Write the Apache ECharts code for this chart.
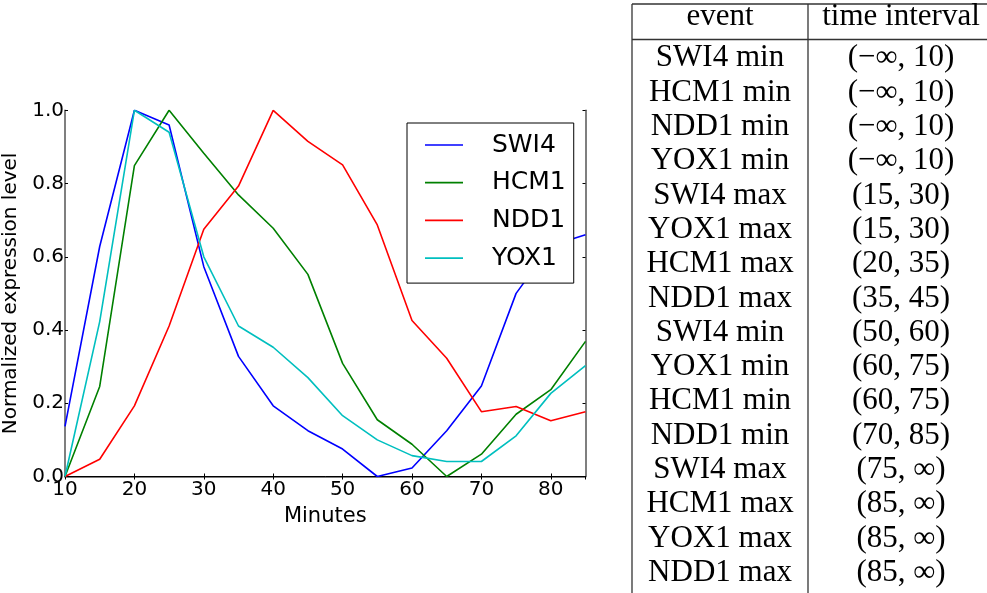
<!DOCTYPE html>
<html><head><meta charset="utf-8">
<script src="https://cdn.jsdelivr.net/npm/echarts@6/dist/echarts.min.js"></script>
<style>html,body{margin:0;padding:0;background:#fff}#c{width:987px;height:593px}</style>
</head><body><div id="c"></div>
<script>
const minutes = [10,15,20,25,30,35,40,45,50,55,60,65,70,75,80,85];
const swi4 = [0.137,0.628,1.0,0.96,0.573,0.328,0.193,0.125,0.075,0.0,0.023,0.125,0.247,0.50,0.63,0.66];
const hcm1 = [0.0,0.246,0.849,1.0,0.883,0.769,0.678,0.552,0.309,0.155,0.088,0.0,0.061,0.17,0.237,0.369];
const ndd1 = [0.0,0.047,0.193,0.411,0.675,0.793,1.0,0.915,0.851,0.687,0.426,0.323,0.177,0.191,0.152,0.177];
const yox1 = [0.0,0.423,1.0,0.94,0.60,0.411,0.353,0.27,0.166,0.10,0.057,0.041,0.041,0.111,0.227,0.303];
const seriesNames = ['SWI4','HCM1','NDD1','YOX1'];
const seriesColors = ['#0000ff','#008000','#ff0000','#00bfbf'];
const tableHeader = ['event','time interval'];
const tableEvents = ['SWI4 min','HCM1 min','NDD1 min','YOX1 min','SWI4 max','YOX1 max','HCM1 max','NDD1 max',
  'SWI4 min','YOX1 min','HCM1 min','NDD1 min','SWI4 max','HCM1 max','YOX1 max','NDD1 max'];
const tableIntervals = ['(−∞, 10)','(−∞, 10)','(−∞, 10)','(−∞, 10)','(15, 30)','(15, 30)','(20, 35)','(35, 45)',
  '(50, 60)','(60, 75)','(60, 75)','(70, 85)','(75, ∞)','(85, ∞)','(85, ∞)','(85, ∞)'];

const allData = [swi4, hcm1, ndd1, yox1];
const series = allData.map((vals, k) => ({
  name: seriesNames[k], type: 'line', symbol: 'none', showSymbol: false,
  data: minutes.map((m, i) => [m, vals[i]]),
  lineStyle: { color: seriesColors[k], width: 1.6 },
  itemStyle: { color: seriesColors[k] },
  animation: false
}));

// table graphics
const tFont = '"Liberation Serif", "DejaVu Serif", serif';
const col1 = 720, col2 = 901;
const rowY = i => 58.3 + 34.3 * i;
const headerY = 16.7;
const lineStyleT = { stroke: '#333', lineWidth: 1.3 };
const graphics = [
  { type: 'line', shape: { x1: 632, y1: 4, x2: 632, y2: 593 }, style: lineStyleT },
  { type: 'line', shape: { x1: 808, y1: 4, x2: 808, y2: 593 }, style: lineStyleT },
  { type: 'line', shape: { x1: 632, y1: 4, x2: 987, y2: 4 }, style: lineStyleT },
  { type: 'line', shape: { x1: 632, y1: 39.5, x2: 987, y2: 39.5 }, style: lineStyleT },
  { type: 'text', x: col1, y: headerY, style: { text: tableHeader[0], fontSize: 31, fontFamily: tFont, fill: '#000', align: 'center', verticalAlign: 'middle' } },
  { type: 'text', x: col2, y: headerY, style: { text: tableHeader[1], fontSize: 31, fontFamily: tFont, fill: '#000', align: 'center', verticalAlign: 'middle' } }
];
tableEvents.forEach((ev, i) => {
  graphics.push({ type: 'text', x: col1, y: rowY(i), style: { text: ev, fontSize: 31, fontFamily: tFont, fill: '#000', align: 'center', verticalAlign: 'middle' } });
  graphics.push({ type: 'text', x: col2, y: rowY(i), style: { text: tableIntervals[i], fontSize: 31, fontFamily: tFont, fill: '#000', align: 'center', verticalAlign: 'middle' } });
});

const sansFont = '"DejaVu Sans", sans-serif';
const tickCommon = { inside: true, length: 3, lineStyle: { color: '#000', width: 1 } };
const option = {
  animation: false,
  backgroundColor: '#fff',
  grid: { left: 65, right: 401.5, top: 110.3, bottom: 116.5, outerBoundsMode: 'none', containLabel: false },
  xAxis: [{
    type: 'value', min: 10, max: 85, interval: 10, position: 'bottom',
    axisLine: { lineStyle: { color: '#555', width: 1.5 } },
    axisTick: tickCommon,
    axisLabel: { showMaxLabel: false, hideOverlap: false, fontSize: 20, color: '#000', fontFamily: sansFont, margin: 3 },
    splitLine: { show: false },
    name: 'Minutes', nameLocation: 'middle', nameGap: 29.5,
    nameTextStyle: { fontSize: 21, color: '#000', fontFamily: sansFont }
  }, {
    type: 'value', min: 10, max: 85, interval: 10, position: 'top',
    axisLine: { lineStyle: { color: '#000', width: 1 } },
    axisTick: tickCommon, axisLabel: { show: false }, splitLine: { show: false }
  }],
  yAxis: [{
    type: 'value', min: 0, max: 1, interval: 0.2, position: 'left',
    axisLine: { show: true, lineStyle: { color: '#555', width: 1.5 } },
    axisTick: { show: true, inside: true, length: 3, lineStyle: { color: '#000', width: 1 } },
    axisLabel: { hideOverlap: false, fontSize: 20, color: '#000', fontFamily: sansFont, margin: 1, formatter: v => v.toFixed(1) },
    splitLine: { show: false },
    name: 'Normalized expression level', nameLocation: 'middle', nameGap: 36,
    nameTextStyle: { fontSize: 20, color: '#000', fontFamily: sansFont }
  }, {
    type: 'value', min: 0, max: 1, interval: 0.2, position: 'right',
    axisLine: { show: true, lineStyle: { color: '#555', width: 1.5 } },
    axisTick: { show: true, inside: true, length: 3, lineStyle: { color: '#000', width: 1 } },
    axisLabel: { show: false }, splitLine: { show: false }
  }],
  legend: {
    orient: 'vertical', left: 407, top: 123,
    padding: [9.5, 8, 12.5, 18],
    borderColor: '#000', borderWidth: 1, backgroundColor: '#fff',
    icon: 'rect',
    itemWidth: 38, itemHeight: 1.7, itemGap: 12.7,
    itemStyle: { borderWidth: 0 },
    textStyle: { fontSize: 25, color: '#000', fontFamily: sansFont, lineHeight: 25, padding: [0, 0, 0, 24] },
    data: seriesNames
  },
  graphic: graphics,
  series: series
};
const chart = echarts.init(document.getElementById('c'), null, { renderer: 'canvas' });
chart.setOption(option);
</script></body></html>
